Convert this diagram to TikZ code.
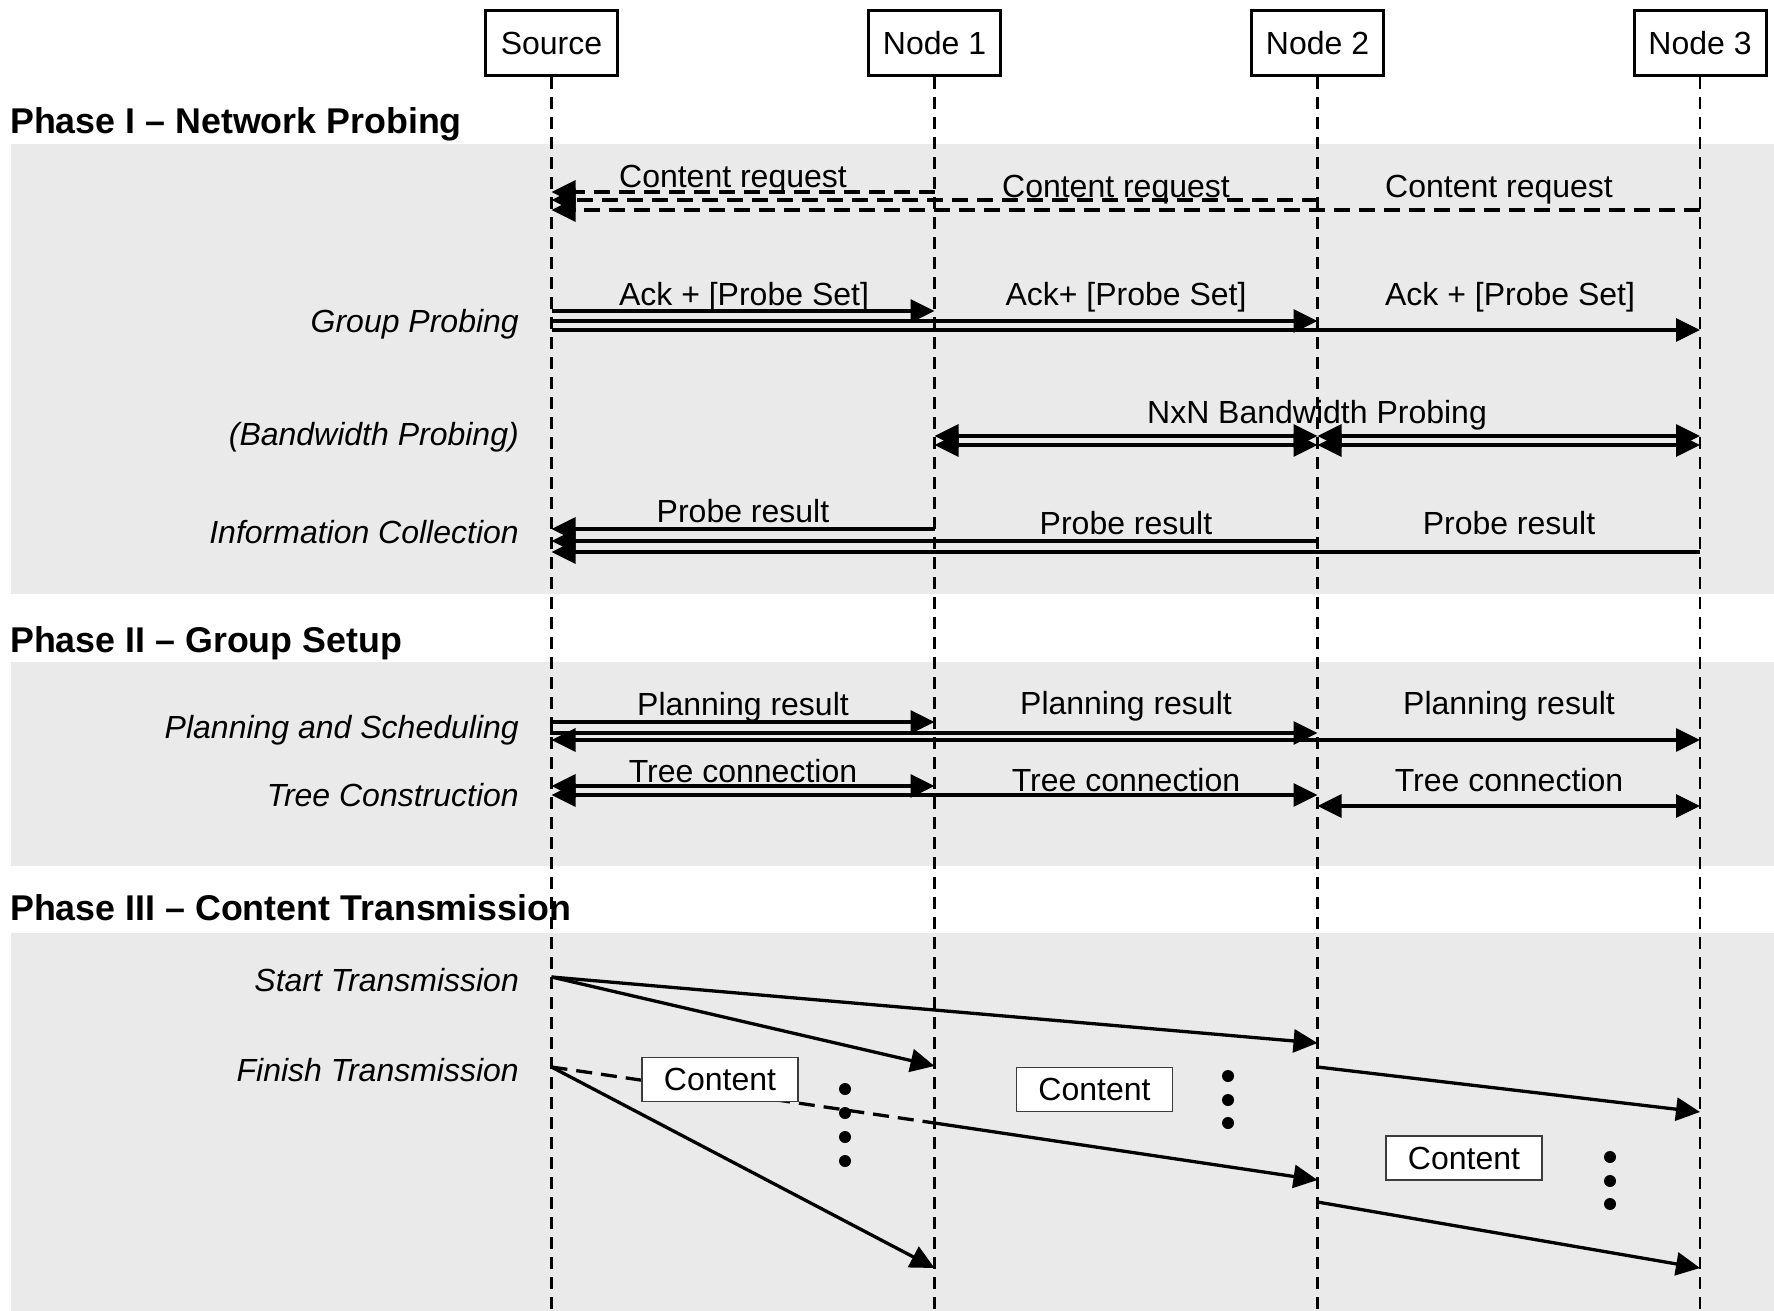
\documentclass[tikz,border=0pt]{standalone}
\usepackage{fontspec}
\setmainfont{Liberation Sans}
\usetikzlibrary{arrows.meta}
\definecolor{bandgray}{RGB}{234,234,234}
\definecolor{boxedge}{RGB}{60,60,60}
\begin{document}
\begin{tikzpicture}[x=1pt,y=-1pt,
  >={Triangle[length=24pt,width=23pt]},
  actor/.style={draw, line width=3pt, minimum width=132pt, minimum height=65pt,
    inner sep=0pt, font=\fontsize{32}{38}\selectfont},
  lifeline/.style={line width=2.7pt, dash pattern=on 12pt off 8pt},
  msg/.style={line width=3.3pt},
  dmsg/.style={line width=3.3pt, dash pattern=on 16pt off 9pt},
  lbl/.style={anchor=base, inner sep=0pt, font=\fontsize{32}{38}\selectfont},
  stage/.style={anchor=base east, inner sep=0pt, font=\fontsize{32}{38}\selectfont\itshape},
  phase/.style={anchor=base west, inner sep=0pt, font=\fontsize{35.8}{42}\selectfont\bfseries},
  payload/.style={draw=boxedge, fill=white, line width=1.5pt, minimum width=156pt,
    minimum height=44pt, inner sep=0pt, font=\fontsize{32}{38}\selectfont},
  dot/.style={fill=black, circle, inner sep=0pt, minimum size=12pt}
]
\useasboundingbox (0,0) rectangle (1774,1311);

% shaded phase bands
\fill[bandgray] (11,144) rectangle (1774,594);
\fill[bandgray] (11,662) rectangle (1774,866);
\fill[bandgray] (11,933) rectangle (1774,1311);

% phase headings
\node[phase] (ph1) at (10,134) {Phase I – Network Probing};
\node[phase] (ph2) at (10,652) {Phase II – Group Setup};
\node[phase] (ph3) at (10,920) {Phase III – Content Transmission};

% participants and lifelines
\node[actor] (src) at (551.5,43) {Source};
\node[actor] (n1)  at (934.5,43) {Node 1};
\node[actor] (n2)  at (1317.5,43) {Node 2};
\node[actor] (n3)  at (1700,43) {Node 3};
\foreach \p in {src,n1,n2,n3}
  \draw[lifeline] (\p.south) -- (\p |- 0,1311);

% step names
\node[stage] (s1) at (519,332) {Group Probing};
\node[stage] (s2) at (519,445) {(Bandwidth Probing)};
\node[stage] (s3) at (519,543) {Information Collection};
\node[stage] (s4) at (519,738) {Planning and Scheduling};
\node[stage] (s5) at (519,806) {Tree Construction};
\node[stage] (s6) at (519,991) {Start Transmission};
\node[stage] (s7) at (519,1081) {Finish Transmission};

% ---- Phase I ----
\draw[dmsg,->] (n1 |- 0,192) -- (src |- 0,192);
\draw[dmsg,->] (n2 |- 0,200) -- (src |- 0,200);
\draw[dmsg,->] (n3 |- 0,210) -- (src |- 0,210);
\node[lbl] (cr1) at (733,187) {Content request};
\node[lbl] (cr2) at (1116,197) {Content request};
\node[lbl] (cr3) at (1499,197) {Content request};

\draw[msg,->] (src |- 0,311) -- (n1 |- 0,311);
\draw[msg,->] (src |- 0,321) -- (n2 |- 0,321);
\draw[msg,->] (src |- 0,330) -- (n3 |- 0,330);
\node[lbl] (ack1) at (744,305) {Ack + [Probe Set]};
\node[lbl] (ack2) at (1126,305) {Ack+ [Probe Set]};
\node[lbl] (ack3) at (1510,305) {Ack + [Probe Set]};

\draw[msg,<->] (n1 |- 0,436) -- (n2 |- 0,436);
\draw[msg,<->] (n1 |- 0,445) -- (n2 |- 0,445);
\draw[msg,<->] (n2 |- 0,436) -- (n3 |- 0,436);
\draw[msg,<->] (n2 |- 0,445) -- (n3 |- 0,445);
\node[lbl] (nxn) at (1317,423) {NxN Bandwidth Probing};

\draw[msg,->] (n1 |- 0,529) -- (src |- 0,529);
\draw[msg,->] (n2 |- 0,541) -- (src |- 0,541);
\draw[msg,->] (n3 |- 0,552) -- (src |- 0,552);
\node[lbl] (pr1) at (743,522) {Probe result};
\node[lbl] (pr2) at (1126,534) {Probe result};
\node[lbl] (pr3) at (1509,534) {Probe result};

% ---- Phase II ----
\draw[msg,<->] (n1 |- 0,722) -- (src |- 0,722) -- (src |- 0,733) -- (n2 |- 0,733);
\draw[msg,<->] (src |- 0,740) -- (n3 |- 0,740);
\node[lbl] (pl1) at (743,715) {Planning result};
\node[lbl] (pl2) at (1126,714) {Planning result};
\node[lbl] (pl3) at (1509,714) {Planning result};

\draw[msg,<->] (src |- 0,786) -- (n1 |- 0,786);
\draw[msg,<->] (src |- 0,795) -- (n2 |- 0,795);
\draw[msg,<->] (n2 |- 0,806) -- (n3 |- 0,806);
\node[lbl] (tc1) at (743,782) {Tree connection};
\node[lbl] (tc2) at (1126,791) {Tree connection};
\node[lbl] (tc3) at (1509,791) {Tree connection};

% ---- Phase III ----
\draw[msg,->] (src |- 0,977) -- (n1 |- 0,1066);
\draw[msg,->] (src |- 0,977) -- (n2 |- 0,1043);
\draw[msg,->] (n2 |- 0,1067) -- (n3 |- 0,1112);
\draw[msg,->] (src |- 0,1067) -- (n1 |- 0,1268);
\draw[dmsg] (src |- 0,1067) -- (n1 |- 0,1123);
\draw[msg,->] (n1 |- 0,1123) -- (n2 |- 0,1180);
\draw[msg,->] (n2 |- 0,1202) -- (n3 |- 0,1268);

\node[payload] (c1) at (720,1079.5) {Content};
\node[payload] (c2) at (1094.5,1089.5) {Content};
\node[payload] (c3) at (1464,1158) {Content};

\foreach \y [count=\i] in {1089,1113,1137,1161} \node[dot] (da\i) at (845,\y) {};
\foreach \y [count=\i] in {1076,1100,1123} \node[dot] (db\i) at (1228,\y) {};
\foreach \y [count=\i] in {1157,1181,1204} \node[dot] (dc\i) at (1610,\y) {};
\end{tikzpicture}
\end{document}
